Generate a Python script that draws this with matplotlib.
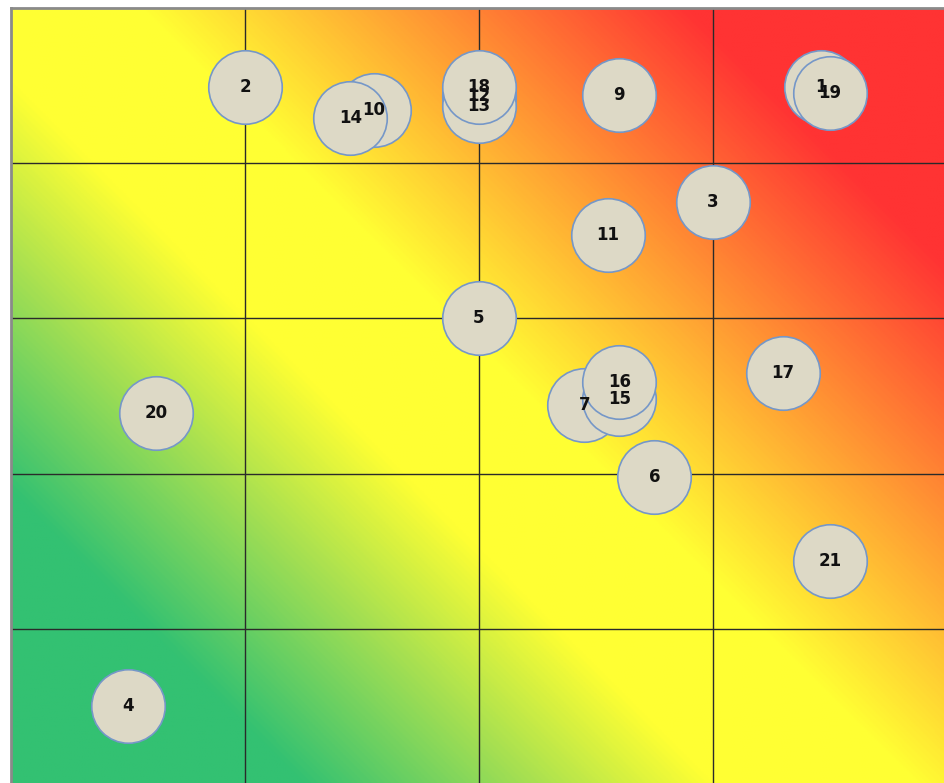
import numpy as np
import matplotlib
matplotlib.use("Agg")
import matplotlib.pyplot as plt
from matplotlib.colors import LinearSegmentedColormap

# Risk items: id, impact (x), likelihood (y)
item_ids = [1, 2, 3, 4, 5, 6, 7, 9, 10, 11, 12, 13, 14, 15, 16, 17, 18, 19, 20, 21]
impact = [3.46, 1.00, 3.00, 0.50, 2.00, 2.75, 2.45, 2.60, 1.55, 2.55,
          2.00, 2.00, 1.45, 2.60, 2.60, 3.30, 2.00, 3.50, 0.62, 3.50]
likelihood = [4.49, 4.49, 3.75, 0.50, 3.00, 1.98, 2.44, 4.44, 4.34, 3.54,
              4.43, 4.37, 4.29, 2.48, 2.59, 2.65, 4.49, 4.45, 2.39, 1.44]

x_cells = 4
y_cells = 5

W, H = 944, 783
fig = plt.figure(figsize=(W / 100, H / 100), dpi=100)
# plot area runs slightly past the right and bottom edges
ax = fig.add_axes([11 / W, (H - 784) / H, 936 / W, 776 / H])

# diagonal green -> yellow -> red background
cmap = LinearSegmentedColormap.from_list(
    "risk",
    [(0.0, "#33c172"), (0.17, "#33c172"), (0.30, "#a4df52"),
     (0.41, "#ffff33"), (0.53, "#ffff33"), (0.69, "#ff9933"),
     (0.85, "#ff3333"), (1.0, "#ff3333")])
nu, nv = 600, 500
u = np.linspace(0, 1, nu)
v = np.linspace(0, 1, nv)
U, V = np.meshgrid(u, v)
S = (U * 936 + V * 776) / (936 + 776)
ax.imshow(S, cmap=cmap, vmin=0, vmax=1, origin="lower",
          extent=[0, x_cells, 0, y_cells], aspect="auto",
          interpolation="bilinear", zorder=0)

# cell grid
for gx in range(1, x_cells):
    ax.axvline(gx, color="#2a2a2a", lw=1.0, zorder=1)
for gy in range(1, y_cells):
    ax.axhline(gy, color="#2a2a2a", lw=1.0, zorder=1)

# bubbles, later ids drawn on top
order = np.argsort(item_ids)
for k, i in enumerate(order):
    ax.scatter(impact[i], likelihood[i], s=2800, color="#ddd9c6",
               edgecolors="#7597c8", linewidths=1.2, zorder=2 + k * 0.01)

for i in order:
    ax.text(impact[i], likelihood[i], str(item_ids[i]), ha="center",
            va="center", fontsize=12, fontweight="bold", color="#111111",
            family="DejaVu Sans", zorder=5)

ax.set_xlim(0, x_cells)
ax.set_ylim(0, y_cells)
ax.set_xticks([])
ax.set_yticks([])
for side in ("left", "top"):
    ax.spines[side].set_color("#8a8a8a")
    ax.spines[side].set_linewidth(2)
for side in ("right", "bottom"):
    ax.spines[side].set_visible(False)

fig.savefig("out.png", dpi=100)
